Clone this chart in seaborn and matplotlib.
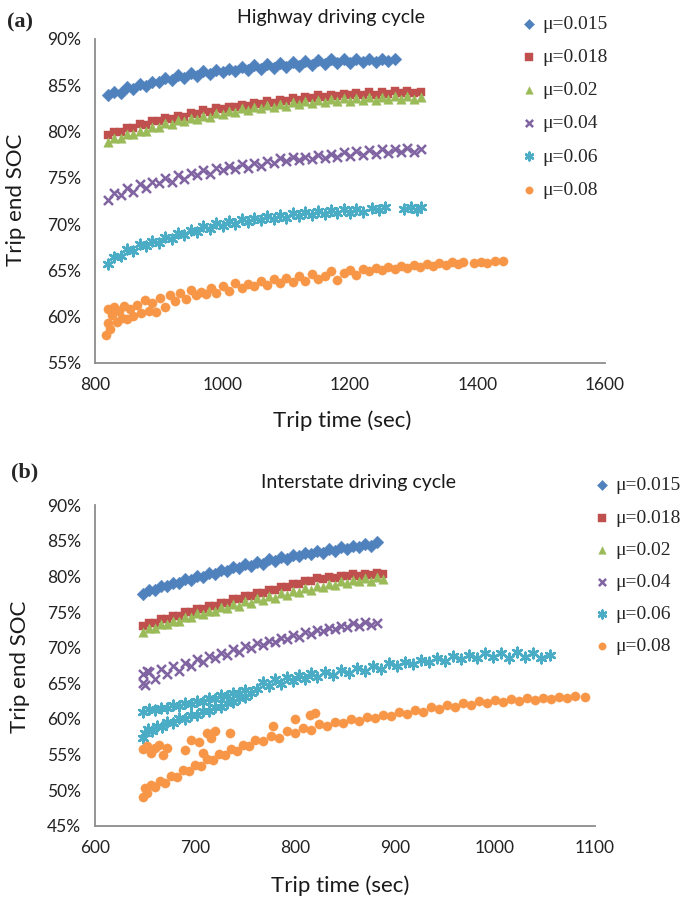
import pandas as pd
import seaborn as sns
import matplotlib.pyplot as plt

# ---- series labels and styles ----
mu_labels = ['μ=0.015', 'μ=0.018', 'μ=0.02', 'μ=0.04', 'μ=0.06', 'μ=0.08']
colors = ['#4F81BD', '#C0504D', '#9BBB59', '#8064A2', '#4BACC6', '#F79646']
markers = ['D', 's', '^', 'x', (6, 2, 0), 'o']
marker_sizes = [42, 40, 46, 42, 48, 44]

# ---- (a) Highway driving cycle: trip time (sec) / trip end SOC (%) ----
hw_t_015 = [820, 830, 840, 850, 860, 870, 880, 890, 900, 910,
            920, 930, 940, 950, 960, 970, 980, 990, 1000, 1010,
            1020, 1030, 1040, 1050, 1060, 1070, 1080, 1090, 1100, 1110,
            1120, 1130, 1140, 1150, 1160, 1170, 1180, 1190, 1200, 1210,
            1220, 1230, 1240, 1250, 1260, 1270]
hw_soc_015 = [83.9, 84.3, 84.2, 84.8, 84.6, 85.1, 84.9, 85.4, 85.3, 85.8,
              85.6, 86.1, 85.8, 86.3, 86.0, 86.5, 86.2, 86.7, 86.4, 86.8,
              86.5, 87.0, 86.7, 87.2, 86.8, 87.3, 86.9, 87.4, 87.0, 87.5,
              87.1, 87.6, 87.2, 87.7, 87.3, 87.8, 87.4, 87.8, 87.4, 87.8,
              87.5, 87.8, 87.5, 87.8, 87.6, 87.8]

hw_t_long = [820, 830, 840, 850, 860, 870, 880, 890, 900, 910,
             920, 930, 940, 950, 960, 970, 980, 990, 1000, 1010,
             1020, 1030, 1040, 1050, 1060, 1070, 1080, 1090, 1100, 1110,
             1120, 1130, 1140, 1150, 1160, 1170, 1180, 1190, 1200, 1210,
             1220, 1230, 1240, 1250, 1260, 1270, 1280, 1290, 1300, 1312]
hw_soc_018 = [79.6, 80.0, 80.0, 80.4, 80.4, 80.8, 80.7, 81.1, 81.1, 81.5,
              81.4, 81.7, 81.6, 82.0, 81.9, 82.3, 82.1, 82.5, 82.4, 82.7,
              82.6, 82.9, 82.8, 83.1, 83.0, 83.3, 83.1, 83.4, 83.3, 83.6,
              83.4, 83.7, 83.6, 83.9, 83.7, 84.0, 83.8, 84.1, 83.9, 84.2,
              84.0, 84.3, 84.0, 84.3, 84.1, 84.4, 84.2, 84.4, 84.2, 84.3]
hw_soc_02 = [78.9, 79.3, 79.3, 79.7, 79.7, 80.1, 80.1, 80.5, 80.5, 80.9,
             80.8, 81.2, 81.1, 81.5, 81.4, 81.7, 81.6, 82.0, 81.9, 82.2,
             82.1, 82.5, 82.3, 82.7, 82.5, 82.9, 82.7, 83.0, 82.8, 83.2,
             83.0, 83.3, 83.1, 83.4, 83.2, 83.5, 83.3, 83.6, 83.3, 83.6,
             83.4, 83.7, 83.4, 83.7, 83.5, 83.8, 83.5, 83.8, 83.5, 83.7]
hw_soc_04 = [72.6, 73.4, 73.1, 73.9, 73.5, 74.3, 73.9, 74.5, 74.4, 75.0,
             74.6, 75.3, 74.9, 75.5, 75.3, 75.8, 75.4, 76.1, 75.8, 76.3,
             76.0, 76.5, 76.1, 76.6, 76.3, 76.8, 76.6, 77.1, 76.8, 77.3,
             76.9, 77.3, 77.0, 77.5, 77.1, 77.6, 77.3, 77.8, 77.4, 77.9,
             77.5, 78.0, 77.6, 78.1, 77.7, 78.1, 77.8, 78.2, 77.8, 78.1]

hw_t_06 = [820, 830, 840, 850, 860, 870, 880, 890, 900, 910,
           920, 930, 940, 950, 960, 970, 980, 990, 1000, 1010,
           1020, 1030, 1040, 1050, 1060, 1070, 1080, 1090, 1100, 1110,
           1120, 1130, 1140, 1150, 1160, 1170, 1180, 1190, 1200, 1210, 1220,
           1235, 1245, 1255, 1285, 1295, 1305, 1312]
hw_soc_06 = [65.7, 66.4, 66.6, 67.3, 67.1, 67.8, 67.6, 68.2, 68.0, 68.6,
             68.4, 69.0, 68.8, 69.4, 69.2, 69.8, 69.5, 70.1, 69.8, 70.3,
             70.0, 70.5, 70.2, 70.7, 70.4, 70.9, 70.6, 71.0, 70.7, 71.2,
             70.9, 71.3, 71.0, 71.4, 71.1, 71.5, 71.2, 71.6, 71.2, 71.6, 71.3,
             71.7, 71.5, 71.8, 71.6, 71.8, 71.5, 71.8]

hw_t_08 = [818, 820, 821, 823, 826, 830, 834, 838, 842, 846,
           850, 855, 860, 866, 872, 878, 884, 890, 896, 902,
           910, 918, 926, 934, 942, 950, 958, 966, 974, 982,
           990, 1000, 1010, 1020, 1030, 1040, 1050, 1060, 1070, 1080,
           1090, 1100, 1110, 1120, 1130, 1140, 1150, 1160, 1170, 1180,
           1190, 1200, 1210, 1220, 1230, 1240, 1250, 1260, 1270, 1280,
           1290, 1300, 1310, 1320, 1330, 1340, 1350, 1360, 1370, 1378,
           1395, 1405, 1415, 1428, 1440]
hw_soc_08 = [58.0, 59.3, 60.8, 58.7, 60.2, 61.0, 59.4, 60.6, 59.9, 61.2,
             59.7, 60.8, 60.1, 61.3, 60.4, 61.8, 60.6, 61.5, 60.5, 62.0,
             61.1, 62.3, 61.7, 62.6, 61.9, 62.9, 62.3, 62.7, 62.5, 63.1,
             62.6, 63.3, 62.8, 63.6, 63.1, 63.5, 63.3, 63.9, 63.4, 64.1,
             63.6, 64.2, 63.7, 64.4, 63.9, 64.6, 64.1, 64.4, 64.9, 64.0,
             64.7, 65.0, 64.5, 65.1, 64.9, 65.3, 65.0, 65.4, 65.1, 65.5,
             65.3, 65.6, 65.4, 65.7, 65.5, 65.8, 65.6, 65.9, 65.7, 65.9,
             65.8, 65.9, 65.8, 66.0, 66.0]

# ---- (b) Interstate driving cycle ----
is_t_015 = [648, 654, 660, 666, 672, 678, 684, 690, 696, 702,
            708, 714, 720, 726, 732, 738, 744, 750, 756, 762,
            768, 774, 780, 786, 792, 798, 804, 810, 816, 822,
            828, 834, 840, 846, 852, 858, 864, 870, 876, 882]
is_soc_015 = [77.5, 78.1, 78.1, 78.6, 78.6, 79.1, 79.1, 79.6, 79.5, 80.0,
              79.9, 80.5, 80.3, 80.9, 80.8, 81.3, 81.2, 81.7, 81.5, 82.0,
              81.8, 82.4, 82.2, 82.7, 82.5, 83.0, 82.8, 83.3, 83.1, 83.6,
              83.3, 83.8, 83.6, 84.1, 83.8, 84.3, 84.1, 84.6, 84.3, 84.8]

is_t_mid = [648, 654, 660, 666, 672, 678, 684, 690, 696, 702,
            708, 714, 720, 726, 732, 738, 744, 750, 756, 762,
            768, 774, 780, 786, 792, 798, 804, 810, 816, 822,
            828, 834, 840, 846, 852, 858, 864, 870, 876, 882, 888]
is_soc_018 = [73.0, 73.5, 73.5, 74.0, 74.0, 74.5, 74.5, 75.0, 75.0, 75.4,
              75.4, 75.9, 75.9, 76.3, 76.3, 76.8, 76.8, 77.2, 77.2, 77.7,
              77.7, 78.1, 78.1, 78.5, 78.5, 78.9, 78.9, 79.3, 79.3, 79.7,
              79.6, 79.9, 79.8, 80.1, 80.0, 80.3, 80.1, 80.4, 80.2, 80.5, 80.4]
is_soc_02 = [72.2, 72.8, 72.8, 73.3, 73.3, 73.8, 73.8, 74.3, 74.3, 74.8,
             74.7, 75.2, 75.1, 75.7, 75.5, 76.1, 75.9, 76.5, 76.3, 76.9,
             76.7, 77.2, 77.0, 77.6, 77.4, 77.9, 77.8, 78.3, 78.1, 78.6,
             78.5, 78.9, 78.8, 79.3, 79.1, 79.5, 79.3, 79.8, 79.4, 79.9, 79.6]

is_t_04 = [648, 654, 660, 666, 672, 678, 684, 690, 696, 702,
           708, 714, 720, 726, 732, 738, 744, 750, 756, 762,
           768, 774, 780, 786, 792, 798, 804, 810, 816, 822,
           828, 834, 840, 846, 852, 858, 864, 870, 876, 882,
           648, 650, 652]
is_soc_04 = [65.0, 66.6, 65.6, 67.0, 66.3, 67.5, 66.8, 67.9, 67.4, 68.4,
             68.0, 68.9, 68.5, 69.3, 69.0, 69.8, 69.4, 70.2, 69.9, 70.6,
             70.4, 71.0, 70.8, 71.4, 71.2, 71.8, 71.5, 72.2, 71.9, 72.5,
             72.3, 72.8, 72.6, 73.1, 72.9, 73.4, 73.1, 73.6, 73.2, 73.5,
             66.3, 64.8, 66.8]

is_t_06 = [648, 654, 660, 666, 672, 678, 684, 690, 696, 702,           # upper start band
           708, 714, 720, 726, 732, 738, 744, 750,
           648, 650, 653, 657, 662, 667, 672, 678, 684, 690,           # lower start band
           696, 702, 708, 714, 720, 726, 732, 738, 744, 750, 756,
           762, 768, 774, 780, 786, 792, 798, 804, 810, 816,           # merged
           822, 830, 838, 846, 854, 862, 870, 878, 886, 894,
           902, 910, 918, 926, 934, 942, 950, 958, 966, 974,
           982, 990, 998, 1006, 1014, 1022, 1030, 1038, 1046, 1055]
is_soc_06 = [61.0, 61.4, 61.3, 61.6, 61.5, 61.9, 61.8, 62.2, 62.1, 62.5,
             62.4, 62.9, 62.8, 63.3, 63.2, 63.7, 63.6, 64.1,
             57.3, 58.0, 58.6, 58.3, 59.0, 58.9, 59.6, 59.5, 60.1, 60.0,
             60.6, 60.5, 61.1, 61.1, 61.7, 61.7, 62.3, 62.4, 62.9, 63.1, 63.6,
             64.2, 65.2, 64.6, 65.6, 64.9, 65.9, 65.3, 66.2, 65.6, 66.5,
             65.9, 66.6, 66.2, 66.9, 66.5, 67.2, 66.8, 67.5, 67.0, 67.8,
             67.4, 68.0, 67.7, 68.3, 68.0, 68.5, 68.2, 68.8, 68.4, 69.0,
             68.6, 69.2, 68.7, 69.3, 68.5, 69.4, 68.7, 69.3, 68.6, 69.0]

is_t_08 = [648, 650, 652, 656, 660, 665, 670, 676, 682, 688,
           694, 700, 706, 712, 718, 724, 730, 736, 742, 748,
           754, 760, 768, 776, 784, 792, 800, 808, 816, 824,
           832, 840, 848, 856, 864, 872, 880, 888, 896, 904,
           912, 920, 928, 936, 944, 952, 960, 968, 976, 984,
           992, 1000, 1008, 1016, 1024, 1032, 1040, 1048, 1056, 1064,
           1072, 1080, 1090,
           648, 652, 656, 660, 664, 668, 672, 690, 696, 704,     # scattered upper points
           708, 712, 716, 720, 735, 778, 800, 815, 820]
is_soc_08 = [49.0, 50.3, 49.6, 50.8, 50.4, 51.3, 51.0, 52.0, 51.8, 52.9,
             52.7, 53.6, 53.4, 54.4, 54.2, 55.1, 54.9, 55.8, 55.5, 56.4,
             56.2, 57.0, 56.9, 57.6, 57.4, 58.3, 58.0, 58.8, 58.5, 59.3,
             59.0, 59.6, 59.4, 60.0, 59.7, 60.3, 60.1, 60.6, 60.4, 61.0,
             60.7, 61.3, 61.0, 61.7, 61.4, 62.0, 61.7, 62.2, 61.9, 62.5,
             62.2, 62.7, 62.4, 62.8, 62.5, 62.9, 62.7, 63.0, 62.8, 63.1,
             62.9, 63.2, 63.1,
             55.8, 56.2, 55.3, 55.9, 56.4, 55.0, 56.0, 55.6, 57.0, 56.8,
             55.2, 58.0, 57.4, 58.3, 58.0, 59.0, 60.0, 60.6, 60.8]

highway = [(hw_t_015, hw_soc_015), (hw_t_long, hw_soc_018), (hw_t_long, hw_soc_02),
           (hw_t_long, hw_soc_04), (hw_t_06, hw_soc_06), (hw_t_08, hw_soc_08)]
interstate = [(is_t_015, is_soc_015), (is_t_mid, is_soc_018), (is_t_mid, is_soc_02),
              (is_t_04, is_soc_04), (is_t_06, is_soc_06), (is_t_08, is_soc_08)]

sns.set_style('white')
plt.rcParams['font.family'] = ['Lato', 'DejaVu Sans']
axis_grey = '#8c8c8c'
text_dark = '#1a1a1a'


def draw_panel(ax, series, xlim, xticks, ylim, yticks):
    for (t, soc), lab, c, m, s in zip(series, mu_labels, colors, markers, marker_sizes):
        df = pd.DataFrame({'Trip time (sec)': t, 'Trip end SOC': soc})
        if m in ('x', (6, 2, 0)):
            sns.scatterplot(data=df, x='Trip time (sec)', y='Trip end SOC', ax=ax,
                            marker=m, s=s, color=c, linewidth=1.8, label=lab)
        else:
            sns.scatterplot(data=df, x='Trip time (sec)', y='Trip end SOC', ax=ax,
                            marker=m, s=s, color=c, edgecolor=c, linewidth=0.3, label=lab)
    ax.set_xlim(xlim)
    ax.set_ylim(ylim)
    ax.set_xticks(xticks)
    ax.set_yticks(yticks)
    ax.set_yticklabels([f'{v}%' for v in yticks])
    sns.despine(ax=ax)
    for side in ('left', 'bottom'):
        ax.spines[side].set_color(axis_grey)
        ax.spines[side].set_linewidth(1.3)
    ax.tick_params(direction='out', length=5, width=1.3, color=axis_grey,
                   labelsize=12.5, labelcolor='#222222', pad=5)
    ax.set_xlabel('Trip time (sec)', fontsize=16, color=text_dark)
    ax.set_ylabel('')


fig = plt.figure(figsize=(6.89, 8.98), dpi=100)
ax_a = fig.add_axes([0.1379, 0.5958, 0.7402, 0.3608])
ax_b = fig.add_axes([0.1379, 0.0802, 0.7257, 0.3574])

draw_panel(ax_a, highway, (800, 1600), [800, 1000, 1200, 1400, 1600],
           (55, 90), [55, 60, 65, 70, 75, 80, 85, 90])
draw_panel(ax_b, interstate, (600, 1100), [600, 700, 800, 900, 1000, 1100],
           (45, 90), [45, 50, 55, 60, 65, 70, 75, 80, 85, 90])

ax_a.xaxis.set_label_coords(0.484, -0.145)
ax_b.xaxis.set_label_coords(0.49, -0.153)

# y axis titles
fig.text(16 / 689, 1 - 200 / 898, 'Trip end SOC', rotation=90, fontsize=16,
         ha='center', va='center', color=text_dark)
fig.text(20 / 689, 1 - 667 / 898, 'Trip end SOC', rotation=90, fontsize=16,
         ha='center', va='center', color=text_dark)

leg_font = {'family': 'Liberation Serif', 'size': 14}
ax_a.legend(loc='upper left', bbox_to_anchor=(0.754, 0.983), bbox_transform=fig.transFigure,
            frameon=False, prop=leg_font, handlelength=1.0, handletextpad=0.2,
            labelspacing=0.8, borderpad=0, borderaxespad=0, markerscale=0.8)
ax_b.legend(loc='upper left', bbox_to_anchor=(0.859, 0.469), bbox_transform=fig.transFigure,
            frameon=False, prop=leg_font, handlelength=1.0, handletextpad=0.2,
            labelspacing=0.75, borderpad=0, borderaxespad=0, markerscale=0.8)

fig.text(0.480, 0.981, 'Highway driving cycle', fontsize=14, ha='center', va='center', color=text_dark)
fig.text(0.521, 0.463, 'Interstate driving cycle', fontsize=14, ha='center', va='center', color=text_dark)
fig.text(0.010, 0.9755, '(a)', family='Liberation Serif', fontsize=16, fontweight='bold',
         ha='left', va='center')
fig.text(0.016, 0.4744, '(b)', family='Liberation Serif', fontsize=16, fontweight='bold',
         ha='left', va='center')

fig.savefig('out.png', dpi=100)
